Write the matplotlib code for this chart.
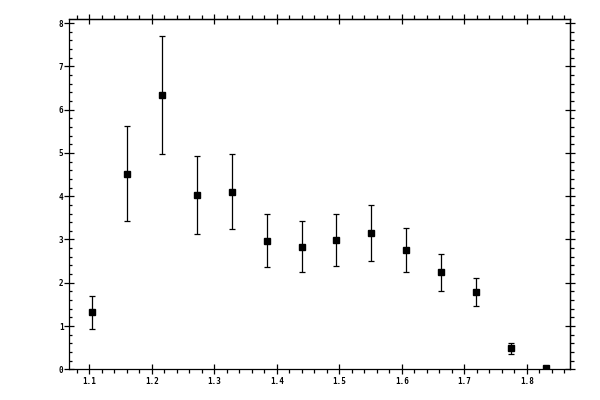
import matplotlib
matplotlib.use("Agg")
import matplotlib.pyplot as plt
from matplotlib.ticker import MultipleLocator, FormatStrFormatter, NullFormatter

x = [1.105, 1.161, 1.217, 1.273, 1.329, 1.385, 1.441, 1.495, 1.551, 1.607, 1.663, 1.719, 1.775, 1.831]
y = [1.32, 4.51, 6.33, 4.02, 4.09, 2.96, 2.82, 2.98, 3.14, 2.75, 2.24, 1.78, 0.49, 0.02]
y_hi = [1.70, 5.62, 7.70, 4.92, 4.97, 3.58, 3.42, 3.58, 3.79, 3.26, 2.66, 2.10, 0.60, 0.02]
y_lo = [0.92, 3.42, 4.97, 3.12, 3.24, 2.36, 2.24, 2.38, 2.50, 2.24, 1.80, 1.46, 0.35, 0.02]

err_lo = [a - b for a, b in zip(y, y_lo)]
err_hi = [b - a for a, b in zip(y, y_hi)]

fig = plt.figure(figsize=(6, 4), dpi=100)
ax = fig.add_axes([0.1155, 0.0768, 0.835, 0.875])

ax.errorbar(x, y, yerr=[err_lo, err_hi], fmt='s', color='black', ecolor='black',
            markersize=5.0, elinewidth=0.9, capsize=2.0, capthick=0.9)

ax.set_xlim(1.068, 1.8696)
ax.set_ylim(0, 8.09)

for s in ax.spines.values():
    s.set_linewidth(0.9)

ax.xaxis.set_major_locator(MultipleLocator(0.1))
ax.xaxis.set_minor_locator(MultipleLocator(0.02))
ax.yaxis.set_major_locator(MultipleLocator(1))
ax.yaxis.set_minor_locator(MultipleLocator(0.2))
ax.xaxis.set_major_formatter(FormatStrFormatter('%.1f'))
ax.yaxis.set_major_formatter(FormatStrFormatter('%d'))

ax.tick_params(axis='both', which='major', direction='inout', length=6.5, width=0.9)
ax.tick_params(axis='x', which='minor', direction='out', length=3, width=0.9)
ax.tick_params(axis='y', which='minor', direction='in', length=2.5, width=0.9)
ax.tick_params(axis='x', which='major', pad=2)
ax.tick_params(axis='y', which='major', pad=1)

secx = ax.secondary_xaxis('top')
secx.xaxis.set_major_locator(MultipleLocator(0.1))
secx.xaxis.set_minor_locator(MultipleLocator(0.02))
secx.xaxis.set_major_formatter(NullFormatter())
secx.tick_params(which='major', direction='inout', length=6.5, width=0.9)
secx.tick_params(which='minor', direction='out', length=3, width=0.9)
secx.spines['top'].set_linewidth(0.9)

secy = ax.secondary_yaxis('right')
secy.yaxis.set_major_locator(MultipleLocator(1))
secy.yaxis.set_minor_locator(MultipleLocator(0.2))
secy.yaxis.set_major_formatter(NullFormatter())
secy.tick_params(which='major', direction='inout', length=6.5, width=0.9)
secy.tick_params(which='minor', direction='out', length=3, width=0.9)
secy.spines['right'].set_linewidth(0.9)

for t in ax.get_xticklabels() + ax.get_yticklabels():
    t.set_family('DejaVu Sans Mono')
    t.set_fontsize(5.5)
    t.set_fontweight('bold')

fig.savefig('out.png', dpi=100)
